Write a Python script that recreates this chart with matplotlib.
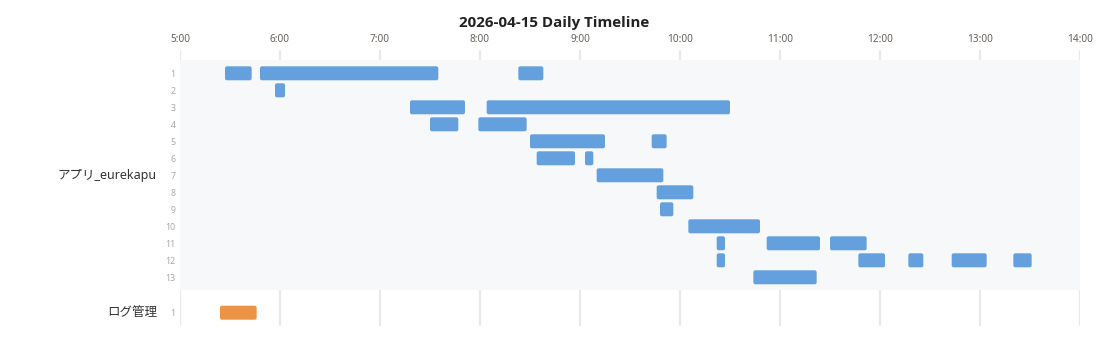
import matplotlib
matplotlib.use("Agg")
import matplotlib.pyplot as plt
from matplotlib.patches import FancyBboxPatch, Rectangle
import matplotlib.transforms as mtransforms

plt.rcParams['font.family'] = ['Noto Sans', 'Noto Sans CJK JP', 'DejaVu Sans']

title = "2026-04-15 Daily Timeline"
groups = ["アプリ_eurekapu", "ログ管理"]
group_rows = [13, 1]
group_colors = ["#65a0de", "#ec9445"]
x_ticks = [5, 6, 7, 8, 9, 10, 11, 12, 13, 14]
x_tick_labels = ["5:00", "6:00", "7:00", "8:00", "9:00", "10:00", "11:00", "12:00", "13:00", "14:00"]

# group 1 sessions (row, start, end)
app_row = [1, 1, 1, 2, 3, 3, 4, 4, 5, 5, 6, 6, 7, 8, 9, 10, 11, 11, 11,
           12, 12, 12, 12, 12, 13]
app_start = ["5:27", "5:48", "8:23", "5:57", "7:18", "8:04", "7:30", "7:59", "8:30", "9:43",
             "8:34", "9:03", "9:10", "9:46", "9:48", "10:05", "10:22", "10:52", "11:30",
             "10:22", "11:47", "12:17", "12:43", "13:20", "10:44"]
app_end = ["5:43", "7:35", "8:38", "6:03", "7:51", "10:30", "7:47", "8:28", "9:15", "9:52",
           "8:57", "9:08", "9:50", "10:08", "9:56", "10:48", "10:27", "11:24", "11:52",
           "10:27", "12:03", "12:26", "13:04", "13:31", "11:22"]

# group 2 sessions
log_row = [1]
log_start = ["5:24"]
log_end = ["5:46"]


def to_h(s):
    h, m = s.split(":")
    return int(h) + int(m) / 60.0


W, H = 1110, 353
fig = plt.figure(figsize=(W / 100, H / 100), dpi=100)
ax_left, ax_right, ax_top, ax_bot = 180, 1080, 50, 326
ax = fig.add_axes([ax_left / W, 1 - ax_bot / H, (ax_right - ax_left) / W, (ax_bot - ax_top) / H])

row_px = 17.0
g2_offset = 35.4 / row_px  # distance from last row of group1 to group2 row
g1_pos = [float(i) for i in range(1, group_rows[0] + 1)]
g2_pos = [group_rows[0] + g2_offset]
band_top = 1 - 13.3 / row_px
band_bot = group_rows[0] + 12.7 / row_px
y_top = 1 - (73.3 - ax_top) / row_px
y_bot = group_rows[0] + (ax_bot - 277.3) / row_px

ax.set_xlim(x_ticks[0], x_ticks[-1])
ax.set_ylim(y_bot, y_top)

# grid lines
for xt in x_ticks:
    ax.axvline(xt, color="#e9e9e9", lw=1.6, zorder=0)

# group 1 background band
ax.add_patch(Rectangle((x_ticks[0], band_top), x_ticks[-1] - x_ticks[0], band_bot - band_top,
                       facecolor="#f7f8fa", edgecolor="none", zorder=1))

bar_h = 14.0 / row_px
xr = 2.0 * 9 / 900.0  # rounding in hours (~2px)
aspect = (1 / row_px) / (9 / 900.0)


def draw_bar(y, s, e, color):
    x0, x1 = to_h(s), to_h(e)
    p = FancyBboxPatch((x0, y - bar_h / 2), x1 - x0, bar_h,
                       boxstyle=f"round,pad=0,rounding_size={xr}",
                       mutation_aspect=aspect, facecolor=color, edgecolor="none", zorder=3)
    ax.add_patch(p)


for r, s, e in zip(app_row, app_start, app_end):
    draw_bar(g1_pos[r - 1], s, e, group_colors[0])
for r, s, e in zip(log_row, log_start, log_end):
    draw_bar(g2_pos[r - 1], s, e, group_colors[1])

# ticks
ax.xaxis.tick_top()
ax.set_xticks(x_ticks)
ax.set_xticklabels(x_tick_labels, fontsize=7.2, color="#66605a")
ax.tick_params(axis="x", length=0, pad=3.5)

ax.set_yticks(g1_pos + g2_pos)
ax.set_yticklabels([str(i) for i in range(1, group_rows[0] + 1)] + [str(i) for i in range(1, group_rows[1] + 1)],
                   fontsize=6.3, color="#a8a8a8")
ax.tick_params(axis="y", length=0, pad=3)

for sp in ax.spines.values():
    sp.set_visible(False)

trans = mtransforms.blended_transform_factory(ax.transAxes, ax.transData)
gx = (157 - ax_left) / (ax_right - ax_left)
ax.text(gx, (g1_pos[0] + g1_pos[-1]) / 2, groups[0], transform=trans, ha="right", va="center",
        fontsize=9, color="#333333")
ax.text(gx, g2_pos[0], groups[1], transform=trans, ha="right", va="center",
        fontsize=9, color="#333333")

fig.text(554 / W, 1 - 23 / H, title, ha="center", va="center", fontsize=10.9,
         fontweight="bold", color="#222222", family=["Open Sans", "DejaVu Sans"])

fig.savefig("out.png", dpi=100)
